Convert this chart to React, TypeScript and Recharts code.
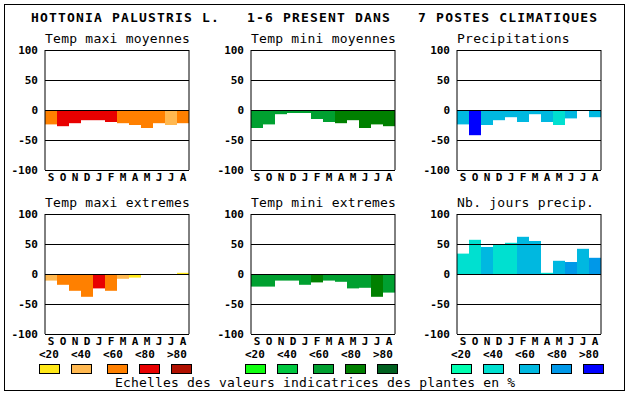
import { BarChart, Bar, XAxis, YAxis, Cell, ReferenceLine } from "recharts";

const MONTHS = ["S", "O", "N", "D", "J", "F", "M", "A", "M", "J", "J", "A"];
const CLASS_LABELS = ["<20", "<40", "<60", "<80", ">80"];

const WARM = ["#ffe818", "#ffb850", "#ff8000", "#e80000", "#b01000"];
const GREEN = ["#10ff10", "#00c840", "#00a030", "#008000", "#006020"];
const BLUE = ["#00ffb0", "#00e0d0", "#00b8e0", "#0098e8", "#0000ff"];

// values (%) and colour class (0..4) per month
const tmaxMoy = [-24, -27, -22, -17, -17, -20, -22, -25, -30, -22, -25, -22];
const tmaxMoyCls = [2, 3, 3, 3, 3, 3, 2, 2, 2, 2, 1, 2];
const tminMoy = [-30, -24, -7, -5, -5, -15, -20, -22, -17, -30, -24, -27];
const tminMoyCls = [2, 2, 2, 2, 2, 2, 2, 3, 3, 3, 3, 3];
const precip = [-24, -42, -25, -17, -12, -20, -7, -20, -25, -14, 0, -12];
const precipCls = [2, 4, 2, 2, 2, 2, 2, 2, 1, 2, 2, 2];
const tmaxExt = [-11, -18, -28, -38, -24, -28, -8, -6, 0, 0, 0, 2];
const tmaxExtCls = [1, 2, 2, 2, 3, 2, 1, 0, 0, 0, 0, 0];
const tminExt = [-21, -21, -11, -11, -18, -14, -11, -13, -24, -23, -38, -31];
const tminExtCls = [2, 2, 2, 2, 2, 3, 2, 2, 2, 2, 3, 2];
const nbJours = [34, 57, 45, 49, 52, 62, 55, 2, 22, 20, 42, 27];
const nbJoursCls = [1, 1, 2, 1, 1, 2, 2, 1, 2, 3, 2, 3];

const Y_TICKS = [-100, -50, 0, 50, 100];

const FONT = "'DejaVu Sans Mono', monospace";

const PANELS = [
  { title: "Temp maxi moyennes", values: tmaxMoy, cls: tmaxMoyCls, palette: WARM, left: 45, top: 50 },
  { title: "Temp mini moyennes", values: tminMoy, cls: tminMoyCls, palette: GREEN, left: 251, top: 50 },
  { title: "Precipitations", values: precip, cls: precipCls, palette: BLUE, left: 457, top: 50 },
  { title: "Temp maxi extremes", values: tmaxExt, cls: tmaxExtCls, palette: WARM, left: 45, top: 214 },
  { title: "Temp mini extremes", values: tminExt, cls: tminExtCls, palette: GREEN, left: 251, top: 214 },
  { title: "Nb. jours precip.", values: nbJours, cls: nbJoursCls, palette: BLUE, left: 457, top: 214 },
];

const tickStyle = { fill: "#000", fontSize: 11, fontWeight: "bold", fontFamily: FONT };

function Panel({ p }: { p: (typeof PANELS)[number] }) {
  const data = MONTHS.map((m, i) => ({ m, v: p.values[i], c: p.cls[i] }));
  return (
    <div style={{ position: "absolute", left: p.left - 40, top: p.top - 10 }}>
      <BarChart
        width={196}
        height={150}
        data={data}
        margin={{ top: 10, right: 11, bottom: 0, left: 0 }}
        barCategoryGap={0}
        barGap={0}
      >
        <XAxis
          dataKey="m"
          interval={0}
          axisLine={false}
          tickLine={false}
          tickSize={1}
          tickMargin={2}
          height={20}
          tick={tickStyle}
        />
        <YAxis
          domain={[-100, 100]}
          ticks={Y_TICKS}
          interval={0}
          width={40}
          axisLine={{ stroke: "#000" }}
          tickLine={false}
          tickSize={5}
          tickMargin={2}
          tick={tickStyle}
        />
        <YAxis
          yAxisId="r"
          orientation="right"
          domain={[-100, 100]}
          width={1}
          tick={false}
          tickLine={false}
          axisLine={{ stroke: "#000" }}
        />
        <Bar dataKey="v" isAnimationActive={false}>
          {data.map((d, i) => (
            <Cell key={i} fill={p.palette[d.c]} />
          ))}
        </Bar>
        {Y_TICKS.map((g) => (
          <ReferenceLine key={g} y={g} stroke="#000" strokeWidth={1} shapeRendering="crispEdges" />
        ))}
      </BarChart>
    </div>
  );
}

const LABEL_DX = [0, 32, 64, 96, 128];
const SWATCH_DX = [0, 32, 68, 100, 132];

export default function App() {
  const palettes = [WARM, GREEN, BLUE];
  return (
    <div style={{ position: "fixed", left: 0, top: 0, width: 630, height: 394, background: "#fff" }}>
      <svg width={630} height={394} style={{ position: "absolute", left: 0, top: 0 }}>
        <rect x={4.5} y={4.5} width={620} height={386} fill="none" stroke="#000" />
        <text
          x={31}
          y={22}
          fontFamily={FONT}
          fontSize={13}
          fontWeight="bold"
          textLength={566}
          lengthAdjust="spacing"
          style={{ whiteSpace: "pre" }}
        >
          {"HOTTONIA PALUSTRIS L.   1-6 PRESENT DANS   7 POSTES CLIMATIQUES"}
        </text>
        {PANELS.map((p, i) => (
          <text
            key={i}
            x={p.left}
            y={p.top - 7}
            fontFamily={FONT}
            fontSize={13}
            textLength={p.title.length * 8.05}
            lengthAdjust="spacing"
          >
            {p.title}
          </text>
        ))}
        {palettes.map((pal, g) => {
          const base = PANELS[g].left - 6;
          return (
            <g key={g}>
              {CLASS_LABELS.map((lab, k) => (
                <text
                  key={"l" + k}
                  x={base + LABEL_DX[k]}
                  y={358}
                  fontFamily={FONT}
                  fontSize={11}
                  fontWeight="bold"
                >
                  {lab}
                </text>
              ))}
              {pal.map((col, k) => (
                <rect
                  key={"s" + k}
                  x={base + SWATCH_DX[k] + 0.5}
                  y={364.5}
                  width={20}
                  height={9}
                  fill={col}
                  stroke="#000"
                />
              ))}
            </g>
          );
        })}
        <text x={115} y={387} fontFamily={FONT} fontSize={13} textLength={400} lengthAdjust="spacing">
          Echelles des valeurs indicatrices des plantes en %
        </text>
      </svg>
      {PANELS.map((p, i) => (
        <Panel key={i} p={p} />
      ))}
    </div>
  );
}
